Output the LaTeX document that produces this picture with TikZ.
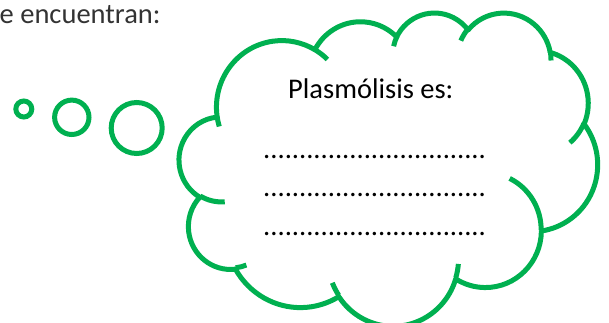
\documentclass[tikz,border=0pt]{standalone}
\usepackage{fontspec}
\setmainfont{Carlito}
\usetikzlibrary{positioning}
\definecolor{cloudgreen}{HTML}{00B050}
\definecolor{textgray}{HTML}{333333}
\newcommand{\cloudarc}[4]{%
  arc[x radius=#1, y radius=#2,
      start angle={atan2(#1*sin(#3),#2*cos(#3))},
      delta angle={mod(atan2(#1*sin(#3+#4),#2*cos(#3+#4))-atan2(#1*sin(#3),#2*cos(#3))+720,360)}]}

\begin{document}
\begin{tikzpicture}[x=1pt, y=-1pt,
    every node/.style={font=\fontsize{28.5}{34}\selectfont, inner sep=0pt, anchor=base west},
    bubble/.style={circle, draw=cloudgreen, line width=5pt, anchor=center},
    cloudline/.style={draw=cloudgreen, line width=5pt, line join=round},
  ]
  \useasboundingbox (0,0) rectangle (609,322);
  \node[text=textgray] (heading) at (-0.5,23) {e encuentran:};
  \node[bubble, minimum size=16pt]   (bubble1) at (23.8,109) {};
  \node[bubble, minimum size=34.4pt] (bubble2) at (71.8,117.3) {};
  \node[bubble, minimum size=51pt]   (bubble3) at (136.7,128) {};
  \begin{scope}[shift={(179.3,12)}, x=0.968pt, y=-0.725pt]
    \draw[cloudline, fill=white] (39.00,143.70)
      \cloudarc{67.53}{91.90}{-190.4875}{123.7805}
      \cloudarc{53.33}{72.67}{-144.1024}{89.9452}
      \cloudarc{43.65}{59.45}{-145.8079}{99.7230}
      \cloudarc{48.57}{65.95}{-130.9861}{117.2417}
      \cloudarc{53.33}{72.73}{-78.7089}{109.0269}
      \cloudarc{67.75}{92.20}{-46.2673}{130.2690}
      \cloudarc{57.85}{78.67}{0.6250}{114.0333}
      \cloudarc{67.52}{92.15}{22.4516}{115.1726}
      \cloudarc{77.20}{105.43}{66.2426}{75.7110}
      \cloudarc{43.60}{59.18}{-274.9421}{146.7356}
      \cloudarc{43.45}{59.45}{-246.8285}{152.5189}
      -- cycle;
    \draw[cloudline]
      (46.93,261.77) \cloudarc{43.45}{59.45}{86.7420}{26.4295}
      (69.28,348.99) \cloudarc{43.60}{59.18}{73.6105}{11.4475}
      (164.78,390.90) \cloudarc{67.52}{92.15}{137.6242}{14.0811}
      (288.27,347.51) \cloudarc{67.52}{92.15}{6.4533}{15.9984}
      (341.29,229.54) \cloudarc{57.85}{78.67}{-70.2924}{70.9174}
      (417.98,153.54) \cloudarc{53.33}{72.73}{30.3180}{27.7515}
      (383.24,54.26) \cloudarc{48.57}{65.95}{-13.7443}{14.8589}
      (290.78,39.52) \cloudarc{48.57}{65.95}{-149.1815}{18.1954}
      (221.41,47.20) \cloudarc{43.65}{59.45}{-163.4943}{17.6864}
      (140.00,51.92) \cloudarc{67.53}{91.90}{-66.7070}{12.3194}
      (41.27,157.89) \cloudarc{67.53}{91.90}{157.6544}{11.8582};
  \end{scope}
  \node (question) at (288,98.3) {Plasmólisis es:};
  \node (line1) at (263,158.3) {...............................};
  \node (line2) at (263,196.7) {...............................};
  \node (line3) at (263,235) {...............................};
\end{tikzpicture}
\end{document}
